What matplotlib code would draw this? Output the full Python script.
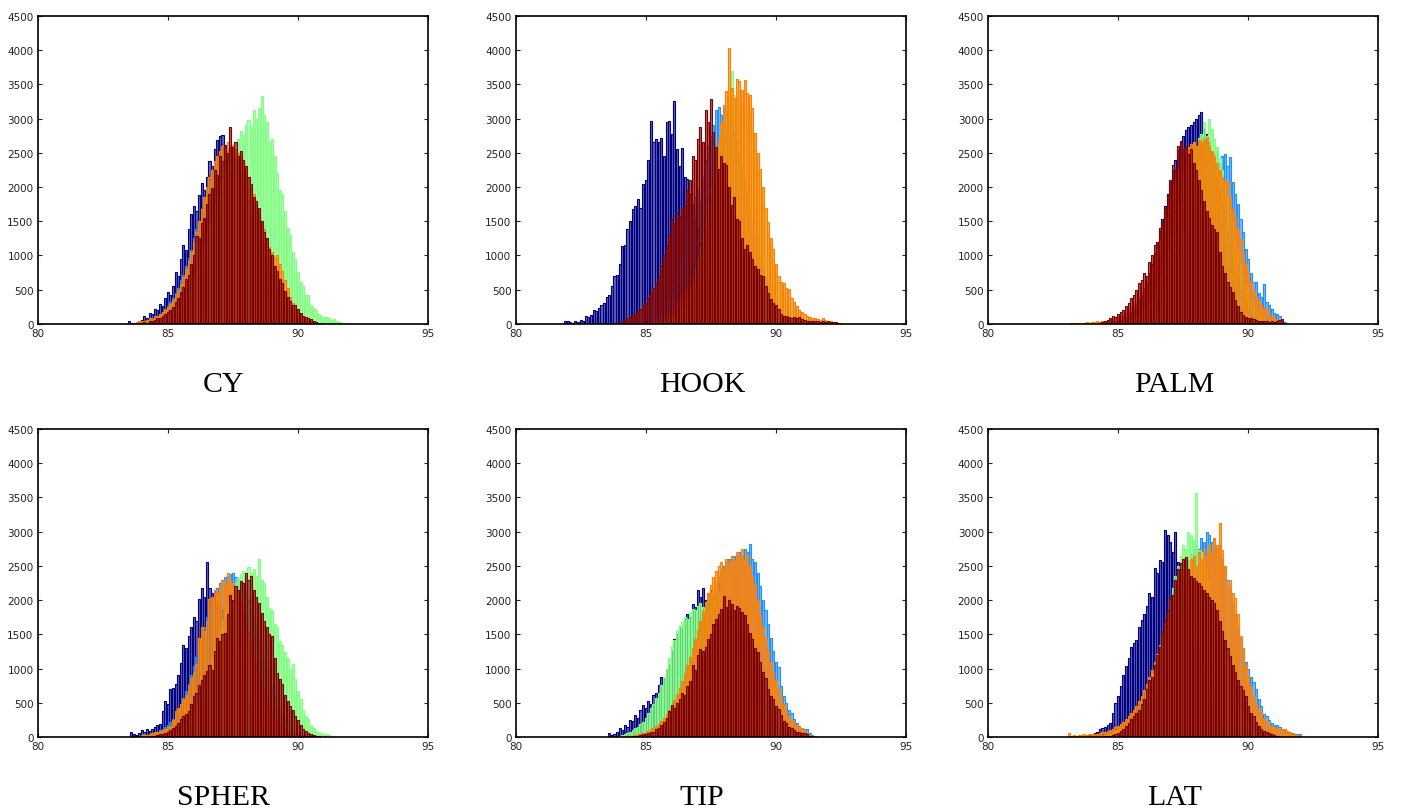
import numpy as np
import matplotlib.pyplot as plt

# histogram bin width shared by every series
BIN = 0.1
COLORS = ['#000080', '#1E8FFF', '#80FF80', '#FF7F00', '#800000']

# --- CY ---
cy_start = [83.5, 84.0, 84.3, 83.8, 84.0]
cy_navy = [40, 20, 10, 30, 50, 60, 110, 90, 160, 140,
           220, 200, 290, 260, 380, 470, 430, 560, 760, 700,
           950, 1150, 1080, 1380, 1600, 1720, 1650, 1880, 2060, 1950,
           2150, 2380, 2300, 2560, 2690, 2740, 2760, 2620, 2550, 2600,
           2480, 2420, 2300, 2180, 2050, 1900, 1800, 1650, 1520, 1380,
           1260, 1100, 980, 850, 720, 610, 500, 420, 330, 260,
           200, 150, 110, 80, 60, 40, 30, 20, 10]
cy_blue = [30, 40, 60, 50, 90, 110, 100, 150, 180, 220,
           260, 320, 380, 450, 520, 640, 720, 850, 960, 1080,
           1250, 1380, 1500, 1680, 1800, 1950, 2080, 2200, 2350, 2300,
           2450, 2520, 2600, 2560, 2580, 2500, 2420, 2450, 2300, 2200,
           2150, 2000, 1880, 1750, 1620, 1500, 1350, 1220, 1080, 950,
           820, 700, 580, 480, 390, 310, 240, 180, 140, 100,
           80, 60, 40, 30, 20, 20, 10, 10, 10, 10,
           10, 10, 20, 10, 30, 10, 10]
cy_green = [10, 20, 30, 40, 50, 70, 90,
            120, 150, 180, 230, 280, 330, 400, 470, 540, 620,
            720, 820, 930, 1050, 1180, 1300, 1450, 1580, 1720, 1860,
            1980, 2100, 2240, 2350, 2460, 2560, 2500, 2700, 2820, 2760,
            2900, 2980, 2880, 3120, 3000, 3150, 3330, 3050, 2950, 2650,
            2700, 2450, 2200, 1950, 1900, 1650, 1400, 1300, 1050, 950,
            760, 620, 560, 430, 420, 280, 230, 200, 150, 120,
            100, 100, 80, 60, 70, 40, 30, 20, 20, 10, 10]
cy_orange = [30, 40,
             50, 40, 60, 80, 70, 100, 120, 150, 170, 210,
             250, 290, 350, 420, 500, 580, 680, 800, 920, 1050,
             1200, 1350, 1500, 1680, 1850, 2000, 2150, 2250, 2380, 2450,
             2520, 2600, 2550, 2650, 2600, 2620, 2560, 2500, 2450, 2350,
             2250, 2150, 2000, 1900, 1750, 1620, 1480, 1380, 1250, 1120,
             1050, 980, 1000, 880, 780, 640, 520, 400, 310, 240,
             180, 130, 100, 70, 50, 40, 30, 20, 10, 10]
cy_red = [20, 30, 20, 40, 50, 60, 80, 90, 120, 140,
          170, 210, 250, 320, 380, 470, 540, 650, 720, 870,
          1000, 1290, 1250, 1480, 1550, 1750, 1900, 1980, 2250, 2180,
          2450, 2380, 2600, 2500, 2870, 2580, 2650, 2450, 2520, 2400,
          2300, 2150, 2050, 1850, 1800, 1700, 1500, 1350, 1250, 1100,
          1000, 850, 780, 650, 600, 480, 400, 330, 280, 270,
          220, 160, 120, 100, 80, 70, 50, 30, 20]

# --- HOOK ---
hook_start = [81.9, 85.0, 85.5, 85.0, 84.0]
hook_navy = [50,
             40, 30, 20, 40, 30, 60, 50, 110, 100, 130,
             210, 190, 230, 280, 300, 400, 420, 560, 700, 720,
             870, 1140, 1150, 1380, 1500, 1680, 1720, 1830, 1700, 2050,
             2100, 2400, 2970, 2650, 2700, 2660, 2720, 2450, 2950, 2960,
             2780, 3260, 2550, 2300, 2570, 2150, 2120, 1900, 1750, 1550,
             1400, 1200, 1050, 900, 750, 620, 500, 400, 320, 250,
             190, 140, 100, 70, 50, 30, 20, 10]
hook_blue = [20, 30, 40, 60, 80, 110, 150, 200, 270, 350,
             440, 560, 690, 840, 1000, 1180, 1360, 1560, 1700, 1850,
             1950, 1800, 2150, 2400, 2600, 2750, 2900, 3120, 3170, 3050,
             3150, 3080, 3000, 2900, 2800, 2650, 2480, 2300, 2100, 1900,
             1700, 1500, 1320, 1150, 980, 820, 680, 550, 440, 350,
             270, 200, 150, 110, 80, 60, 40, 30, 20, 10]
hook_green = [20, 30, 40, 50, 70,
              90, 120, 160, 210, 270, 340, 430, 540, 660, 800,
              960, 1130, 1320, 1520, 1730, 1950, 2180, 2400, 2620, 2850,
              3050, 3180, 3300, 3690, 3350, 3300, 3250, 3200, 3150, 3050,
              3100, 2800, 2550, 2250, 2100, 1800, 1650, 1350, 1150, 950,
              750, 620, 500, 400, 330, 260, 210, 170, 120, 90,
              60, 40, 30, 20, 10]
hook_orange = [10, 20, 20, 30, 40, 50, 70, 90, 120, 150,
               190, 240, 300, 360, 420, 480, 520, 560, 600, 700,
               820, 980, 1180, 1400, 1650, 1900, 2150, 2450, 2700, 2950,
               3200, 3400, 4030, 3450, 3300, 3580, 3550, 3420, 3560, 3380,
               3340, 3150, 2790, 2500, 2270, 2000, 1700, 1490, 1250, 1090,
               880, 700, 620, 600, 520, 510, 380, 320, 260, 200,
               170, 140, 120, 100, 90, 80, 70, 60, 80, 60,
               50, 40, 30, 30, 20, 20]
hook_red = [30, 40, 60, 80, 100, 150, 140, 200, 220, 270,
            300, 380, 460, 520, 600, 700, 850, 1000, 1150, 1300,
            1530, 1480, 1620, 1580, 1700, 1730, 1950, 2100, 2450, 2400,
            2700, 2880, 2650, 3120, 2950, 3290, 2800, 2590, 2270, 2450,
            2350, 2320, 2000, 1730, 1850, 1530, 1500, 1250, 1090, 1150,
            1050, 950, 850, 800, 720, 700, 550, 450, 360, 300,
            270, 220, 150, 120, 110, 100, 90, 100, 80, 100,
            70, 60, 50, 40, 40, 40, 40, 30, 40, 30,
            40, 30, 30, 30, 20]

# --- PALM ---
palm_start = [84.5, 85.5, 85.0, 83.2, 84.3]
palm_navy = [10, 20, 20, 30, 40,
             50, 60, 80, 100, 130, 170, 210, 270, 340, 420,
             510, 620, 740, 880, 1030, 1190, 1360, 1540, 1720, 1900,
             2080, 2250, 2400, 2540, 2650, 2750, 2830, 2880, 2900, 2950,
             3000, 3050, 3090, 2850, 2780, 2650, 2500, 2350, 2150, 1950,
             1750, 1550, 1350, 1150, 970, 800, 650, 510, 400, 300,
             220, 160, 110, 80, 50, 30, 20, 10]
palm_blue = [10, 20, 20, 30, 40,
             50, 70, 90, 120, 160, 200, 260, 330, 410, 500,
             600, 720, 850, 990, 1140, 1300, 1450, 1610, 1760, 1900,
             2030, 2150, 2250, 2340, 2400, 2450, 2480, 2500, 2520, 2350,
             2450, 2480, 2300, 2440, 2070, 1900, 1750, 1530, 1350, 1100,
             950, 750, 610, 620, 450, 400, 580, 320, 270, 220,
             160, 140, 120, 60, 30]
palm_green = [10, 20, 20, 30, 40, 50, 70, 90, 120, 150,
              190, 240, 300, 370, 450, 540, 650, 780, 920, 1070,
              1240, 1420, 1600, 1780, 1960, 2130, 2300, 2450, 2560, 2650,
              2600, 2720, 2780, 2950, 2750, 3000, 2850, 2700, 2580, 2420,
              2250, 2050, 1850, 1650, 1450, 1250, 1060, 880, 720, 580,
              450, 350, 260, 190, 140, 100, 70, 50, 30, 20, 10]
palm_orange = [10, 20, 10, 20, 20, 20, 30, 20,
               30, 30, 40, 30, 40, 50, 50, 60, 70, 80,
               100, 110, 130, 160, 190, 230, 270, 320, 380, 450,
               530, 620, 720, 830, 950, 1080, 1220, 1370, 1520, 1680,
               1830, 1980, 2120, 2250, 2360, 2450, 2530, 2590, 2630, 2660,
               2600, 2680, 2650, 2700, 2730, 2600, 2520, 2450, 2350, 2250,
               2150, 2100, 2070, 1850, 1680, 1550, 1380, 1240, 1050, 880,
               750, 620, 500, 410, 350, 290, 240, 220, 160, 120,
               90, 70, 50, 30]
palm_red = [20, 30, 40, 60, 80, 110, 100,
            150, 180, 200, 260, 300, 380, 420, 500, 600, 640,
            750, 700, 900, 1000, 1150, 1200, 1400, 1490, 1700, 1880,
            2100, 2320, 2250, 2600, 2670, 2550, 2600, 2480, 2560, 2350,
            2250, 2100, 1950, 1800, 1650, 1550, 1450, 1380, 1340, 1050,
            850, 750, 620, 540, 465, 350, 260, 180, 125, 100,
            80, 90, 75, 60, 50, 50, 40, 40, 30, 40,
            30, 40, 60, 75]

# --- SPHER ---
spher_start = [83.6, 84.0, 84.5, 84.0, 84.3]
spher_navy = [70, 40, 30, 60,
              100, 80, 110, 90, 120, 150, 180, 190, 380, 530,
              480, 700, 720, 770, 900, 1085, 1350, 1300, 1475, 1600,
              1750, 1700, 2010, 2180, 2050, 2550, 2180, 2100, 2150, 2000,
              1950, 1850, 1700, 1600, 1450, 1300, 1150, 1000, 860, 730,
              610, 500, 400, 320, 250, 190, 140, 100, 70, 50,
              30, 20, 10]
spher_blue = [20, 30, 30, 40, 50, 60, 80, 100, 120, 150,
              180, 220, 270, 330, 400, 480, 570, 670, 780, 900,
              1030, 1170, 1310, 1460, 1600, 1750, 1880, 2000, 2100, 2180,
              2250, 2300, 2330, 2350, 2380, 2400, 2330, 2300, 2250, 2180,
              2100, 2000, 1880, 1750, 1600, 1450, 1300, 1150, 1000, 860,
              730, 610, 500, 400, 320, 250, 190, 140, 100, 70,
              50, 40, 30, 20, 20, 10, 20, 10, 10, 20, 10]
spher_green = [10, 10, 20, 20, 30,
               40, 50, 60, 80, 100, 130, 160, 200, 250, 310,
               380, 460, 550, 650, 760, 880, 1010, 1150, 1290, 1430,
               1570, 1710, 1840, 1960, 2070, 2170, 2250, 2320, 2380, 2420,
               2350, 2480, 2400, 2450, 2350, 2600, 2300, 2250, 2050, 1890,
               1850, 1650, 1600, 1400, 1350, 1240, 1150, 1000, 1060, 850,
               670, 550, 400, 300, 260, 180, 130, 90, 70, 60,
               50, 45, 30, 20]
spher_orange = [30, 40, 30, 50, 60, 70, 80, 90, 100, 120,
                140, 160, 250, 380, 420, 480, 550, 620, 750, 860,
                950, 1060, 1450, 1600, 1550, 1700, 2010, 2050, 2150, 2100,
                2200, 2300, 2230, 2400, 2300, 2250, 2150, 2050, 1950, 1820,
                1680, 1540, 1400, 1250, 1100, 960, 830, 700, 590, 490,
                400, 320, 250, 190, 150, 110, 80, 60, 40, 30,
                20, 20, 10, 10, 10, 20, 10]
spher_red = [10, 20, 20, 30, 40, 50, 60,
             80, 100, 130, 160, 200, 260, 300, 340, 380, 480,
             600, 650, 760, 840, 900, 960, 1050, 980, 1250, 1450,
             1400, 1500, 1520, 1800, 2080, 2000, 2200, 2150, 2280, 2250,
             2400, 2300, 2350, 2150, 2040, 1950, 1810, 1700, 1600, 1500,
             1475, 1150, 940, 850, 770, 620, 530, 450, 400, 300,
             250, 180, 120, 90, 60, 50, 30, 20, 20]

# --- TIP ---
tip_start = [83.6, 84.5, 84.0, 84.3, 84.5]
tip_navy = [60, 30, 50, 70,
            130, 100, 180, 150, 250, 230, 325, 280, 400, 470,
            420, 520, 480, 615, 650, 760, 880, 850, 980, 1045,
            1250, 1430, 1500, 1625, 1580, 1730, 1800, 1750, 1945, 1900,
            2140, 2050, 2170, 2000, 2100, 2140, 2050, 2100, 2255, 2000,
            1950, 1850, 1750, 1620, 1500, 1350, 1200, 1050, 900, 770,
            640, 520, 420, 330, 250, 190, 140, 100, 70, 50,
            30, 20, 10]
tip_blue = [10, 20, 20, 30, 30,
            40, 50, 60, 70, 90, 110, 130, 160, 190, 230,
            280, 340, 400, 470, 550, 640, 740, 850, 970, 1100,
            1230, 1370, 1520, 1670, 1820, 1960, 2100, 2220, 2330, 2420,
            2500, 2560, 2600, 2630, 2650, 2660, 2700, 2650, 2750, 2700,
            2820, 2600, 2550, 2400, 2200, 2000, 1850, 1650, 1450, 1250,
            1100, 1020, 750, 600, 490, 400, 350, 260, 200, 160,
            130, 120, 110, 60, 30, 20]
tip_green = [20, 30, 40, 60, 80, 100, 130, 150, 190, 225,
             280, 350, 420, 480, 570, 650, 760, 880, 990, 1150,
             1330, 1420, 1550, 1620, 1680, 1750, 1720, 1820, 1875, 1850,
             1920, 1950, 1900, 1970, 2050, 2100, 2150, 2230, 2100, 2050,
             1950, 1850, 1730, 1600, 1460, 1310, 1160, 1010, 870, 740,
             620, 510, 410, 320, 250, 190, 140, 100, 70, 50,
             30, 20, 10]
tip_orange = [10, 20, 20, 30, 40, 50, 60,
              70, 90, 110, 130, 160, 190, 230, 280, 330, 390,
              460, 540, 630, 720, 820, 930, 1050, 1170, 1300, 1430,
              1570, 1700, 1840, 1970, 2100, 2220, 2330, 2420, 2500, 2560,
              2450, 2600, 2550, 2650, 2580, 2700, 2650, 2750, 2600, 2680,
              2500, 2350, 2230, 2000, 1800, 1600, 1450, 1260, 1100, 950,
              830, 700, 590, 480, 380, 300, 250, 200, 170, 150,
              130, 90, 60, 30, 20]
tip_red = [10, 20, 20, 30, 40,
           50, 60, 70, 80, 110, 130, 170, 220, 280, 380,
           470, 430, 500, 560, 650, 620, 750, 820, 1045, 980,
           1200, 1290, 1250, 1310, 1430, 1500, 1650, 1730, 1800, 1875,
           2060, 1900, 2000, 1945, 1850, 1920, 1880, 1820, 1780, 1650,
           1520, 1430, 1300, 1240, 1100, 950, 855, 700, 600, 560,
           450, 415, 320, 240, 200, 150, 130, 100, 80, 70,
           60, 60, 40, 20]

# --- LAT ---
lat_start = [83.8, 84.5, 84.5, 83.1, 84.5]
lat_navy = [20, 35,
            40, 60, 80, 110, 130, 150, 180, 200, 350, 500,
            600, 740, 900, 1030, 1150, 1320, 1380, 1420, 1600, 1710,
            1800, 1910, 2100, 2050, 2465, 2400, 2585, 2550, 3030, 2950,
            2850, 2700, 2990, 2550, 2450, 2300, 2150, 1980, 1800, 1620,
            1440, 1270, 1100, 940, 800, 660, 540, 430, 340, 260,
            200, 150, 110, 80, 50, 30, 20, 10]
lat_blue = [10, 20, 20, 30, 40,
            50, 60, 80, 100, 120, 150, 180, 220, 270, 330,
            400, 480, 570, 670, 780, 900, 1030, 1170, 1320, 1470,
            1620, 1780, 1930, 2080, 2220, 2350, 2470, 2580, 2670, 2740,
            2800, 2750, 2900, 2850, 3000, 2950, 2850, 2900, 2750, 2800,
            2600, 2500, 2300, 2170, 1950, 1800, 1600, 1450, 1280, 1100,
            990, 880, 800, 700, 560, 450, 340, 300, 250, 200,
            180, 170, 150, 120, 100, 80, 70, 60, 50, 40,
            40]
lat_green = [30, 40, 50, 70, 90,
             100, 120, 140, 160, 180, 210, 230, 255, 350, 450,
             560, 680, 790, 920, 1050, 1200, 1330, 1470, 1650, 1820,
             2000, 2180, 2350, 2500, 2650, 2800, 2750, 3000, 2950, 2875,
             3560, 2730, 2700, 2580, 2450, 2300, 2130, 1950, 1760, 1570,
             1380, 1200, 1030, 870, 730, 600, 490, 390, 310, 240,
             180, 140, 100, 70, 50, 30, 20, 10]
lat_orange = [60, 20, 30, 20, 30, 30, 40, 30, 40,
              40, 50, 50, 60, 70, 80, 90, 100, 120, 140,
              160, 190, 220, 260, 300, 350, 400, 460, 530, 600,
              680, 770, 870, 980, 1090, 1210, 1340, 1470, 1600, 1740,
              1870, 2000, 2120, 2240, 2350, 2450, 2540, 2450, 2600, 2650,
              2500, 2700, 2600, 2750, 2650, 2825, 2700, 2900, 2800, 3120,
              2730, 2500, 2220, 2300, 2100, 2025, 1800, 1470, 1300, 1050,
              890, 750, 600, 500, 420, 355, 280, 230, 190, 160,
              140, 130, 120, 110, 115, 90, 70, 50, 40, 30,
              20]
lat_red = [10, 20, 20, 30, 40,
           60, 90, 120, 160, 200, 260, 305, 350, 400, 480,
           550, 700, 840, 880, 1050, 1200, 1320, 1550, 1710, 1850,
           2050, 2075, 2300, 2450, 2540, 2600, 2635, 2450, 2350, 2320,
           2280, 2250, 2200, 2150, 2100, 2050, 2000, 1950, 1860, 1700,
           1550, 1420, 1300, 1180, 1050, 950, 840, 750, 680, 600,
           450, 350, 305, 220, 160, 120, 90, 70, 60, 40,
           30, 20]

panels = [
    ('CY', cy_start, [cy_navy, cy_blue, cy_green, cy_orange, cy_red]),
    ('HOOK', hook_start, [hook_navy, hook_blue, hook_green, hook_orange, hook_red]),
    ('PALM', palm_start, [palm_navy, palm_blue, palm_green, palm_orange, palm_red]),
    ('SPHER', spher_start, [spher_navy, spher_blue, spher_green, spher_orange, spher_red]),
    ('TIP', tip_start, [tip_navy, tip_blue, tip_green, tip_orange, tip_red]),
    ('LAT', lat_start, [lat_navy, lat_blue, lat_green, lat_orange, lat_red]),
]

fig = plt.figure(figsize=(14.01, 8.12), dpi=100)

lefts = [0.0269, 0.3680, 0.7052]
bottoms = [0.5998, 0.0911]
width, height = 0.2787, 0.3795

for k, (name, starts, series) in enumerate(panels):
    ax = fig.add_axes([lefts[k % 3], bottoms[k // 3], width, height])
    for x0, counts, col in zip(starts, series, COLORS):
        centers = x0 + BIN * np.arange(len(counts))
        ax.bar(centers, counts, width=BIN * 0.8, color=col, alpha=0.6,
               edgecolor='none', zorder=2)
        ax.bar(centers, counts, width=BIN * 0.8, facecolor='none',
               edgecolor=col, linewidth=0.8, zorder=2)
    ax.set_xlim(80, 95)
    ax.set_ylim(0, 4500)
    ax.set_xticks([80, 85, 90, 95])
    ax.set_yticks(np.arange(0, 4501, 500))
    ax.tick_params(direction='in', top=True, right=True, length=3,
                   width=0.8, labelsize=7.5, pad=3, colors='#222222')
    for sp in ax.spines.values():
        sp.set_linewidth(1.2)
        sp.set_color('black')
    ax.text(0.477, -0.195, name, transform=ax.transAxes, ha='center',
            va='center', fontsize=21.5, family='Liberation Serif')

fig.savefig('out.png', dpi=100)
